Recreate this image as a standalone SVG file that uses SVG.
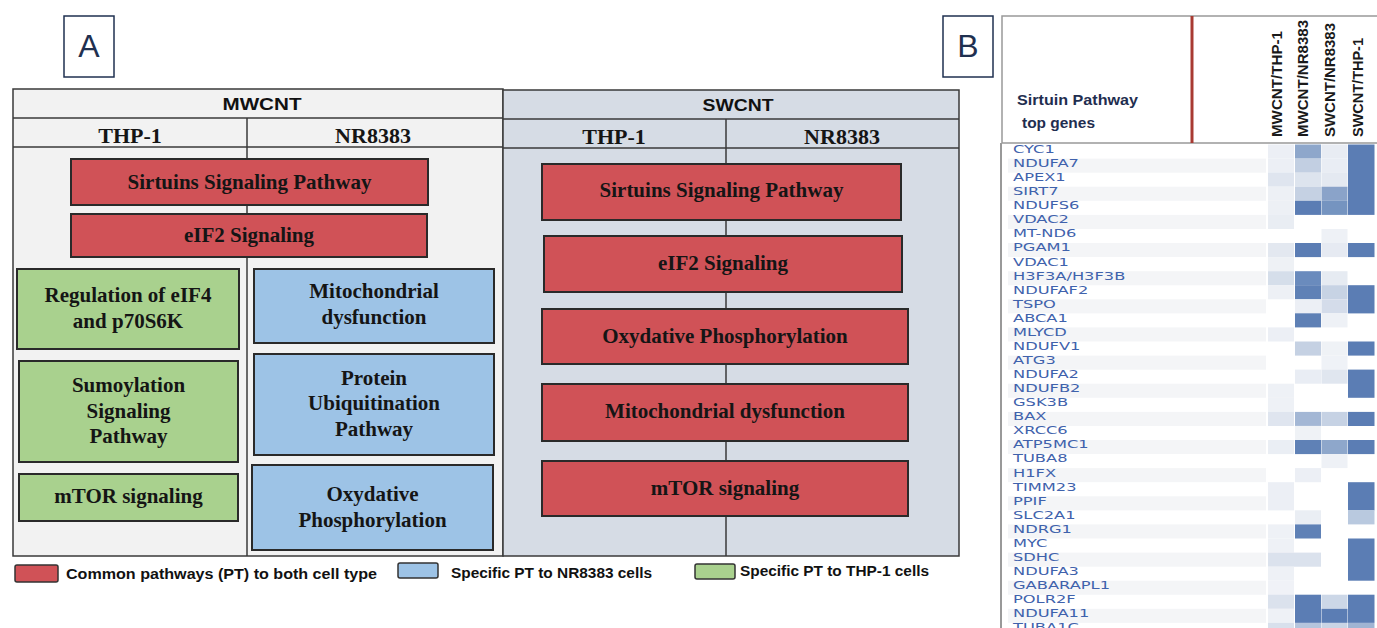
<svg xmlns="http://www.w3.org/2000/svg" width="1377" height="628" viewBox="0 0 1377 628">
<style>
.tl{fill:none;stroke:#3a3a3a;stroke-width:1.5}
.tf{stroke:#3a3a3a;stroke-width:1.5}
.bx{stroke:#2a2a2a;stroke-width:2}
.red{fill:#d05257}
.blue{fill:#9dc3e6}
.green{fill:#a9d18e}
.bt{font-family:"Liberation Serif",serif;font-weight:bold;font-size:21px;fill:#151515;text-anchor:middle}
.ht{font-family:"Liberation Serif",serif;font-weight:bold;font-size:22px;fill:#151515;text-anchor:middle}
.hs{font-family:"Liberation Sans",sans-serif;font-weight:bold;font-size:17px;fill:#111;text-anchor:middle}
.lg{font-family:"Liberation Sans",sans-serif;font-weight:bold;font-size:14px;fill:#111}
.lab{font-family:"Liberation Sans",sans-serif;font-size:32px;fill:#1f3050;text-anchor:middle}
.rt{font-family:"Liberation Sans",sans-serif;font-weight:bold;font-size:15px;fill:#1a1a1a}
.gn{font-family:"DejaVu Sans",sans-serif;font-size:10.5px;fill:#3f62ac}
.sp{font-family:"Liberation Sans",sans-serif;font-weight:bold;font-size:15px;fill:#1f2e50}
</style>

<!-- Panel labels -->
<g id="labelA"><rect x="64" y="16" width="50" height="61" fill="#fff" stroke="#1f3050" stroke-width="1.5"/><text class="lab" x="89" y="57">A</text></g>
<g id="labelB"><rect x="943" y="16" width="50" height="61" fill="#fff" stroke="#1f3050" stroke-width="1.5"/><text class="lab" x="968" y="57">B</text></g>

<!-- Table A -->
<g id="mwcnt">
<rect x="13" y="89" width="490" height="467" class="tf" style="fill:#f2f2f2"/>
<line class="tl" x1="13" y1="118" x2="503" y2="118"/>
<line class="tl" x1="13" y1="147" x2="503" y2="147"/>
<text class="hs" x="262" y="110" textLength="79" lengthAdjust="spacingAndGlyphs">MWCNT</text>
<text class="ht" x="130" y="143">THP-1</text>
<text class="ht" x="373" y="143">NR8383</text>
</g>
<g id="swcnt">
<rect x="503" y="90" width="456" height="466" class="tf" style="fill:#d6dce5"/>
<line class="tl" x1="503" y1="119" x2="959" y2="119"/>
<line class="tl" x1="503" y1="148" x2="959" y2="148"/>
<text class="hs" x="738" y="111" textLength="71" lengthAdjust="spacingAndGlyphs">SWCNT</text>
<text class="ht" x="614" y="144">THP-1</text>
<text class="ht" x="842" y="144">NR8383</text>
</g>

<g id="connectors">
<line class="tl" x1="247" y1="118" x2="247" y2="556"/>
<line class="tl" x1="726" y1="119" x2="726" y2="556"/>
</g>

<g id="mw-sirtuins"><rect class="bx red" x="71" y="159" width="357" height="46"/><text class="bt" x="249.5" y="189">Sirtuins Signaling Pathway</text></g>
<g id="mw-eif2"><rect class="bx red" x="71" y="214" width="356" height="43"/><text class="bt" x="249" y="242">eIF2 Signaling</text></g>
<g id="mw-eif4"><rect class="bx green" x="17" y="269" width="222" height="80"/><text class="bt" x="128" y="302">Regulation of eIF4</text><text class="bt" x="128" y="328">and p70S6K</text></g>
<g id="mw-sumo"><rect class="bx green" x="19" y="361" width="219" height="101"/><text class="bt" x="128.5" y="392">Sumoylation</text><text class="bt" x="128.5" y="418">Signaling</text><text class="bt" x="128.5" y="443">Pathway</text></g>
<g id="mw-mtor"><rect class="bx green" x="19" y="474" width="219" height="47"/><text class="bt" x="128.5" y="503">mTOR signaling</text></g>
<g id="mw-mito"><rect class="bx blue" x="254" y="269" width="240" height="74"/><text class="bt" x="374" y="298">Mitochondrial</text><text class="bt" x="374" y="324">dysfunction</text></g>
<g id="mw-ubiq"><rect class="bx blue" x="254" y="354" width="240" height="101"/><text class="bt" x="374" y="385">Protein</text><text class="bt" x="374" y="410">Ubiquitination</text><text class="bt" x="374" y="436">Pathway</text></g>
<g id="mw-oxy"><rect class="bx blue" x="252" y="465" width="241" height="85"/><text class="bt" x="372.5" y="501">Oxydative</text><text class="bt" x="372.5" y="527">Phosphorylation</text></g>

<g id="sw-sirtuins"><rect class="bx red" x="542" y="164" width="359" height="56"/><text class="bt" x="721.5" y="197">Sirtuins Signaling Pathway</text></g>
<g id="sw-eif2"><rect class="bx red" x="544" y="236" width="358" height="56"/><text class="bt" x="723" y="270">eIF2 Signaling</text></g>
<g id="sw-oxy"><rect class="bx red" x="542" y="309" width="366" height="55"/><text class="bt" x="725" y="343">Oxydative Phosphorylation</text></g>
<g id="sw-mito"><rect class="bx red" x="542" y="384" width="366" height="57"/><text class="bt" x="725" y="418">Mitochondrial dysfunction</text></g>
<g id="sw-mtor"><rect class="bx red" x="542" y="461" width="366" height="55"/><text class="bt" x="725" y="495">mTOR signaling</text></g>

<!-- Legend -->
<g id="legend-common"><rect x="15" y="565" width="43" height="17" rx="2" fill="#d05257" stroke="#333" stroke-width="1.5"/><text class="lg" x="66" y="579" textLength="311" lengthAdjust="spacingAndGlyphs">Common pathways (PT) to both cell type</text></g>
<g id="legend-nr"><rect x="398" y="563" width="40" height="15" rx="2" fill="#9dc3e6" stroke="#333" stroke-width="1.5"/><text class="lg" x="451" y="578" textLength="201" lengthAdjust="spacingAndGlyphs">Specific PT to NR8383 cells</text></g>
<g id="legend-thp"><rect x="695" y="564" width="40" height="15" rx="2" fill="#a9d18e" stroke="#333" stroke-width="1.5"/><text class="lg" x="740" y="576" textLength="189" lengthAdjust="spacingAndGlyphs">Specific PT to THP-1 cells</text></g>

<!-- Panel B -->
<g id="heatmap-header">
<rect x="1002" y="16" width="400" height="127" fill="#fff" stroke="#999" stroke-width="1.5"/>
<line x1="1192" y1="16" x2="1192" y2="143" stroke="#a83a32" stroke-width="3"/>
<text class="sp" x="1017" y="105" textLength="121" lengthAdjust="spacingAndGlyphs">Sirtuin Pathway</text>
<text class="sp" x="1022" y="128" textLength="73" lengthAdjust="spacingAndGlyphs">top genes</text>
<text class="rt" transform="translate(1282 137) rotate(-90)" textLength="106" lengthAdjust="spacingAndGlyphs">MWCNT/THP-1</text>
<text class="rt" transform="translate(1308 137) rotate(-90)" textLength="117" lengthAdjust="spacingAndGlyphs">MWCNT/NR8383</text>
<text class="rt" transform="translate(1335 137) rotate(-90)" textLength="114" lengthAdjust="spacingAndGlyphs">SWCNT/NR8383</text>
<text class="rt" transform="translate(1363 137) rotate(-90)" textLength="99" lengthAdjust="spacingAndGlyphs">SWCNT/THP-1</text>
</g>

<g id="heatmap">
<g fill="#f4f5f7">
<rect x="1008" y="158.6" width="258" height="14.07"/>
<rect x="1008" y="186.7" width="258" height="14.07"/>
<rect x="1008" y="214.9" width="258" height="14.07"/>
<rect x="1008" y="243" width="258" height="14.07"/>
<rect x="1008" y="271.2" width="258" height="14.07"/>
<rect x="1008" y="299.3" width="258" height="14.07"/>
<rect x="1008" y="327.4" width="258" height="14.07"/>
<rect x="1008" y="355.6" width="258" height="14.07"/>
<rect x="1008" y="383.7" width="258" height="14.07"/>
<rect x="1008" y="411.9" width="258" height="14.07"/>
<rect x="1008" y="440" width="258" height="14.07"/>
<rect x="1008" y="468.1" width="258" height="14.07"/>
<rect x="1008" y="496.3" width="258" height="14.07"/>
<rect x="1008" y="524.4" width="258" height="14.07"/>
<rect x="1008" y="552.6" width="258" height="14.07"/>
<rect x="1008" y="580.7" width="258" height="14.07"/>
<rect x="1008" y="608.8" width="258" height="14.07"/>
</g>
<line x1="1001" y1="143" x2="1001" y2="628" stroke="#999" stroke-width="2"/>
<g>
<rect x="1268" y="144.5" width="26" height="14.1" fill="#eceff5"/>
<rect x="1295" y="144.5" width="26" height="14.1" fill="#8ea7cb"/>
<rect x="1321.5" y="144.5" width="26" height="14.1" fill="#e8ecf3"/>
<rect x="1268" y="158.6" width="26" height="14.1" fill="#eceff5"/>
<rect x="1295" y="158.6" width="26" height="14.1" fill="#c2cfe2"/>
<rect x="1321.5" y="158.6" width="26" height="14.1" fill="#e9edf4"/>
<rect x="1268" y="172.6" width="26" height="14.1" fill="#dfe5ef"/>
<rect x="1295" y="172.6" width="26" height="14.1" fill="#dde4ee"/>
<rect x="1321.5" y="172.6" width="26" height="14.1" fill="#e4e9f1"/>
<rect x="1268" y="186.7" width="26" height="14.1" fill="#edf0f5"/>
<rect x="1295" y="186.7" width="26" height="14.1" fill="#c5d1e3"/>
<rect x="1321.5" y="186.7" width="26" height="14.1" fill="#8aa3c9"/>
<rect x="1268" y="200.8" width="26" height="14.1" fill="#edf0f5"/>
<rect x="1295" y="200.8" width="26" height="14.1" fill="#5b7db4"/>
<rect x="1321.5" y="200.8" width="26" height="14.1" fill="#7594c0"/>
<rect x="1348" y="144.5" width="26.5" height="70.4" fill="#5b7db4"/>
<rect x="1268" y="214.9" width="26" height="14.1" fill="#e9edf3"/>
<rect x="1321.5" y="229" width="26" height="14.1" fill="#eef1f6"/>
<rect x="1268" y="243" width="26" height="14.1" fill="#e3e8f0"/>
<rect x="1295" y="243" width="26" height="14.1" fill="#5b7db4"/>
<rect x="1321.5" y="243" width="26" height="14.1" fill="#e6eaf2"/>
<rect x="1348" y="243" width="26.5" height="14.1" fill="#5b7db4"/>
<rect x="1268" y="257.1" width="26" height="14.1" fill="#eef1f5"/>
<rect x="1268" y="271.2" width="26" height="14.1" fill="#d5deea"/>
<rect x="1295" y="271.2" width="26" height="14.1" fill="#6a8bbd"/>
<rect x="1321.5" y="271.2" width="26" height="14.1" fill="#e6ebf2"/>
<rect x="1268" y="285.2" width="26" height="14.1" fill="#edf0f5"/>
<rect x="1295" y="285.2" width="26" height="14.1" fill="#5f81b6"/>
<rect x="1321.5" y="285.2" width="26" height="14.1" fill="#c7d3e4"/>
<rect x="1348" y="285.2" width="26.5" height="28.2" fill="#5b7db4"/>
<rect x="1295" y="299.3" width="26" height="14.1" fill="#eceff5"/>
<rect x="1321.5" y="299.3" width="26" height="14.1" fill="#d4dcea"/>
<rect x="1295" y="313.3" width="26" height="14.1" fill="#5e80b5"/>
<rect x="1321.5" y="313.3" width="26" height="14.1" fill="#eef1f6"/>
<rect x="1268" y="327.4" width="26" height="14.1" fill="#eceff5"/>
<rect x="1295" y="341.5" width="26" height="14.1" fill="#c5d1e3"/>
<rect x="1321.5" y="341.5" width="26" height="14.1" fill="#eff2f6"/>
<rect x="1348" y="341.5" width="26.5" height="14.1" fill="#5b7db4"/>
<rect x="1321.5" y="355.6" width="26" height="14.1" fill="#eff2f7"/>
<rect x="1295" y="369.6" width="26" height="14.1" fill="#e9edf4"/>
<rect x="1321.5" y="369.6" width="26" height="14.1" fill="#e0e6ef"/>
<rect x="1348" y="369.6" width="26.5" height="28.2" fill="#5b7db4"/>
<rect x="1268" y="383.7" width="26" height="14.1" fill="#eef1f6"/>
<rect x="1268" y="397.8" width="26" height="14.1" fill="#eef1f6"/>
<rect x="1268" y="411.9" width="26" height="14.1" fill="#dfe5ef"/>
<rect x="1295" y="411.9" width="26" height="14.1" fill="#a3b7d5"/>
<rect x="1321.5" y="411.9" width="26" height="14.1" fill="#c6d2e4"/>
<rect x="1348" y="411.9" width="26.5" height="14.1" fill="#5b7db4"/>
<rect x="1295" y="425.9" width="26" height="14.1" fill="#eff2f6"/>
<rect x="1268" y="440" width="26" height="14.1" fill="#eaeef4"/>
<rect x="1295" y="440" width="26" height="14.1" fill="#5f81b6"/>
<rect x="1321.5" y="440" width="26" height="14.1" fill="#8ea7cb"/>
<rect x="1348" y="440" width="26.5" height="14.1" fill="#5b7db4"/>
<rect x="1321.5" y="454" width="26" height="14.1" fill="#eef1f6"/>
<rect x="1295" y="468.1" width="26" height="14.1" fill="#eceff5"/>
<rect x="1268" y="482.2" width="26" height="28.2" fill="#eceff5"/>
<rect x="1348" y="482.2" width="26.5" height="28.2" fill="#5b7db4"/>
<rect x="1295" y="510.3" width="26" height="14.1" fill="#eaeef4"/>
<rect x="1348" y="510.3" width="26.5" height="14.1" fill="#b9c9df"/>
<rect x="1268" y="524.4" width="26" height="14.1" fill="#eef1f6"/>
<rect x="1295" y="524.4" width="26" height="14.1" fill="#5f81b6"/>
<rect x="1268" y="538.5" width="26" height="14.1" fill="#eef1f6"/>
<rect x="1348" y="538.5" width="26.5" height="42.2" fill="#5b7db4"/>
<rect x="1268" y="552.6" width="53" height="14.1" fill="#dbe2ed"/>
<rect x="1268" y="566.6" width="26" height="14.1" fill="#eef1f6"/>
<rect x="1268" y="580.7" width="26" height="14.1" fill="#f0f2f7"/>
<rect x="1268" y="594.7" width="26" height="14.1" fill="#dbe2ed"/>
<rect x="1295" y="594.7" width="26" height="28.2" fill="#5b7db4"/>
<rect x="1321.5" y="594.7" width="26" height="14.1" fill="#ccd7e7"/>
<rect x="1348" y="594.7" width="26.5" height="28.2" fill="#5b7db4"/>
<rect x="1268" y="608.8" width="26" height="14.1" fill="#eef1f6"/>
<rect x="1321.5" y="608.8" width="26" height="14.1" fill="#5b7db4"/>
<rect x="1268" y="622.9" width="26" height="14.1" fill="#d8e0ec"/>
<rect x="1295" y="622.9" width="26" height="14.1" fill="#b5c5dd"/>
<rect x="1321.5" y="622.9" width="26" height="14.1" fill="#c9d4e5"/>
<rect x="1348" y="622.9" width="26.5" height="14.1" fill="#a0b4d3"/>
</g>
<g transform="translate(1013 0) scale(1.55 1)">
<text class="gn" x="0" y="153">CYC1</text>
<text class="gn" x="0" y="167.1">NDUFA7</text>
<text class="gn" x="0" y="181.1">APEX1</text>
<text class="gn" x="0" y="195.2">SIRT7</text>
<text class="gn" x="0" y="209.3">NDUFS6</text>
<text class="gn" x="0" y="223.4">VDAC2</text>
<text class="gn" x="0" y="237.4">MT-ND6</text>
<text class="gn" x="0" y="251.5">PGAM1</text>
<text class="gn" x="0" y="265.6">VDAC1</text>
<text class="gn" x="0" y="279.6">H3F3A/H3F3B</text>
<text class="gn" x="0" y="293.7">NDUFAF2</text>
<text class="gn" x="0" y="307.8">TSPO</text>
<text class="gn" x="0" y="321.8">ABCA1</text>
<text class="gn" x="0" y="335.9">MLYCD</text>
<text class="gn" x="0" y="350">NDUFV1</text>
<text class="gn" x="0" y="364.1">ATG3</text>
<text class="gn" x="0" y="378.1">NDUFA2</text>
<text class="gn" x="0" y="392.2">NDUFB2</text>
<text class="gn" x="0" y="406.3">GSK3B</text>
<text class="gn" x="0" y="420.3">BAX</text>
<text class="gn" x="0" y="434.4">XRCC6</text>
<text class="gn" x="0" y="448.5">ATP5MC1</text>
<text class="gn" x="0" y="462.5">TUBA8</text>
<text class="gn" x="0" y="476.6">H1FX</text>
<text class="gn" x="0" y="490.7">TIMM23</text>
<text class="gn" x="0" y="504.8">PPIF</text>
<text class="gn" x="0" y="518.8">SLC2A1</text>
<text class="gn" x="0" y="532.9">NDRG1</text>
<text class="gn" x="0" y="547">MYC</text>
<text class="gn" x="0" y="561">SDHC</text>
<text class="gn" x="0" y="575.1">NDUFA3</text>
<text class="gn" x="0" y="589.2">GABARAPL1</text>
<text class="gn" x="0" y="603.2">POLR2F</text>
<text class="gn" x="0" y="617.3">NDUFA11</text>
<text class="gn" x="0" y="631.4">TUBA1C</text>
</g>
</g>
</svg>
